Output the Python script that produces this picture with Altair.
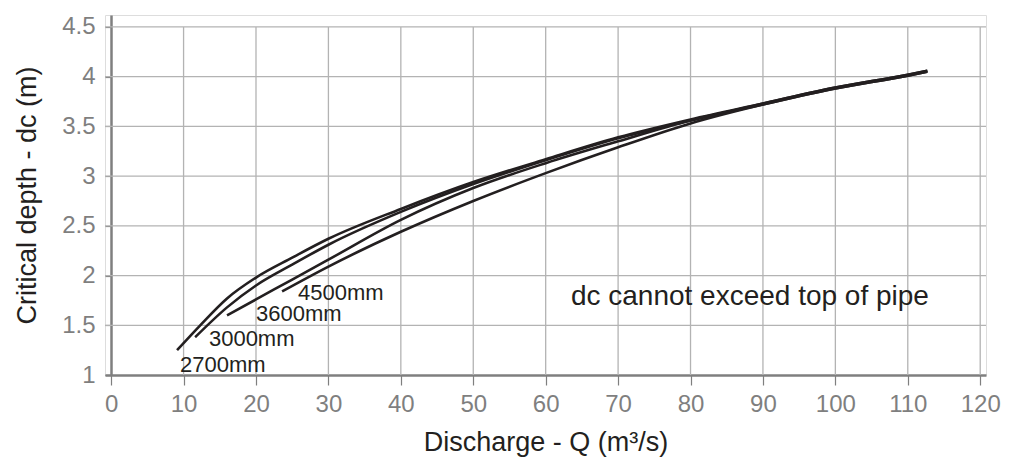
import altair as alt
import pandas as pd

# ---- data ----
q_2700 = [9.1, 12.3, 16.0, 20.0, 25.0, 30.0, 40.0, 50.0, 60.0, 70.0, 80.0, 90.0, 100.0, 110.0, 112.7]
d_2700 = [1.25, 1.50, 1.77, 1.98, 2.18, 2.37, 2.67, 2.94, 3.17, 3.39, 3.57, 3.73, 3.89, 4.02, 4.06]
q_3000 = [11.6, 16.0, 20.0, 25.0, 30.0, 40.0, 50.0, 60.0, 70.0, 80.0, 90.0, 100.0, 110.0, 112.7]
d_3000 = [1.38, 1.68, 1.90, 2.11, 2.31, 2.64, 2.92, 3.16, 3.38, 3.56, 3.73, 3.89, 4.02, 4.06]
q_3600 = [16.0, 20.0, 25.0, 30.0, 40.0, 50.0, 60.0, 70.0, 80.0, 90.0, 100.0, 110.0, 112.7]
d_3600 = [1.60, 1.76, 1.96, 2.16, 2.56, 2.88, 3.13, 3.35, 3.56, 3.72, 3.88, 4.01, 4.05]
q_4500 = [23.6, 30.0, 40.0, 50.0, 60.0, 70.0, 80.0, 90.0, 100.0, 110.0, 112.7]
d_4500 = [1.84, 2.09, 2.44, 2.75, 3.03, 3.29, 3.53, 3.72, 3.88, 4.01, 4.05]

pipe_names = ["2700mm", "3000mm", "3600mm", "4500mm"]
label_q = [9.5, 13.5, 20.0, 25.8]
label_d = [1.033, 1.295, 1.54, 1.757]

note_text = "dc cannot exceed top of pipe"
note_q = 88.2
note_d = 1.70

x_ticks = [0, 10, 20, 30, 40, 50, 60, 70, 80, 90, 100, 110, 120]
y_ticks = [1, 1.5, 2, 2.5, 3, 3.5, 4, 4.5]

X_MIN, X_MAX = -0.85, 120.8
Y_MIN, Y_MAX = 1.0, 4.62

FONT = "Liberation Sans"
INK = "#231f20"
AXIS_GRAY = "#7f7f7f"
GRID_GRAY = "#b3b3b3"

# ---- tables ----
rows = []
for name, qs, ds in zip(pipe_names, [q_2700, q_3000, q_3600, q_4500], [d_2700, d_3000, d_3600, d_4500]):
    for i, (q, d) in enumerate(zip(qs, ds)):
        rows.append({"pipe": name, "Q": q, "dc": d, "order": i})
curves = pd.DataFrame(rows)
labels = pd.DataFrame({"pipe": pipe_names, "Q": label_q, "dc": label_d})
note = pd.DataFrame({"text": [note_text], "Q": [note_q], "dc": [note_d]})
vgrid = pd.DataFrame({"Q": x_ticks[1:], "y1": Y_MIN, "y2": y_ticks[-1]})
hgrid = pd.DataFrame({"dc": y_ticks[1:], "x1": X_MIN, "x2": X_MAX})

xs = alt.Scale(domain=[X_MIN, X_MAX], nice=False, zero=False)
ys = alt.Scale(domain=[Y_MIN, Y_MAX], nice=False, zero=False)

x_axis = alt.Axis(
    values=x_ticks, grid=False, title="Discharge - Q (m³/s)",
    domainColor=AXIS_GRAY, domainWidth=2.5, tickColor=AXIS_GRAY, tickWidth=1.2, tickSize=10,
    labelColor=AXIS_GRAY, labelFont=FONT, labelFontSize=24, labelPadding=7,
    titleFont=FONT, titleFontSize=27, titleFontWeight="normal", titleColor=INK, titlePadding=13,
)
y_axis = alt.Axis(
    values=y_ticks, grid=False, title="Critical depth - dc (m)", offset=-6, format="~g",
    domainColor=AXIS_GRAY, domainWidth=2.5, tickColor=AXIS_GRAY, tickWidth=1.2, tickSize=6,
    labelColor=AXIS_GRAY, labelFont=FONT, labelFontSize=24, labelPadding=10,
    titleFont=FONT, titleFontSize=27, titleFontWeight="normal", titleColor=INK, titlePadding=20,
)

v_rules = alt.Chart(vgrid).mark_rule(color=GRID_GRAY, strokeWidth=1.3).encode(
    x=alt.X("Q:Q", scale=xs, axis=x_axis), y=alt.Y("y1:Q", scale=ys, axis=y_axis), y2="y2:Q"
)
h_rules = alt.Chart(hgrid).mark_rule(color=GRID_GRAY, strokeWidth=1.3).encode(
    y=alt.Y("dc:Q", scale=ys), x=alt.X("x1:Q", scale=xs), x2="x2:Q"
)

lines = alt.Chart(curves).mark_line(color=INK, strokeWidth=2.6, interpolate="monotone").encode(
    x=alt.X("Q:Q", scale=xs), y=alt.Y("dc:Q", scale=ys), detail="pipe:N", order="order:Q"
)

pipe_text = alt.Chart(labels).mark_text(
    align="left", baseline="alphabetic", font=FONT, fontSize=22, color=INK
).encode(x=alt.X("Q:Q", scale=xs), y=alt.Y("dc:Q", scale=ys), text="pipe:N")

note_mark = alt.Chart(note).mark_text(
    align="center", baseline="alphabetic", font=FONT, fontSize=28, color=INK
).encode(x=alt.X("Q:Q", scale=xs), y=alt.Y("dc:Q", scale=ys), text="text:N")

chart = alt.layer(v_rules, h_rules, lines, pipe_text, note_mark).properties(
    width=881, height=360,
    autosize=alt.AutoSizeParams(type="none"),
    padding={"left": 97, "top": 7, "right": 17, "bottom": 83},
).configure_view(stroke=None).configure(background="white")

chart.save("out.html", embed_options={"renderer": "svg", "actions": False})
